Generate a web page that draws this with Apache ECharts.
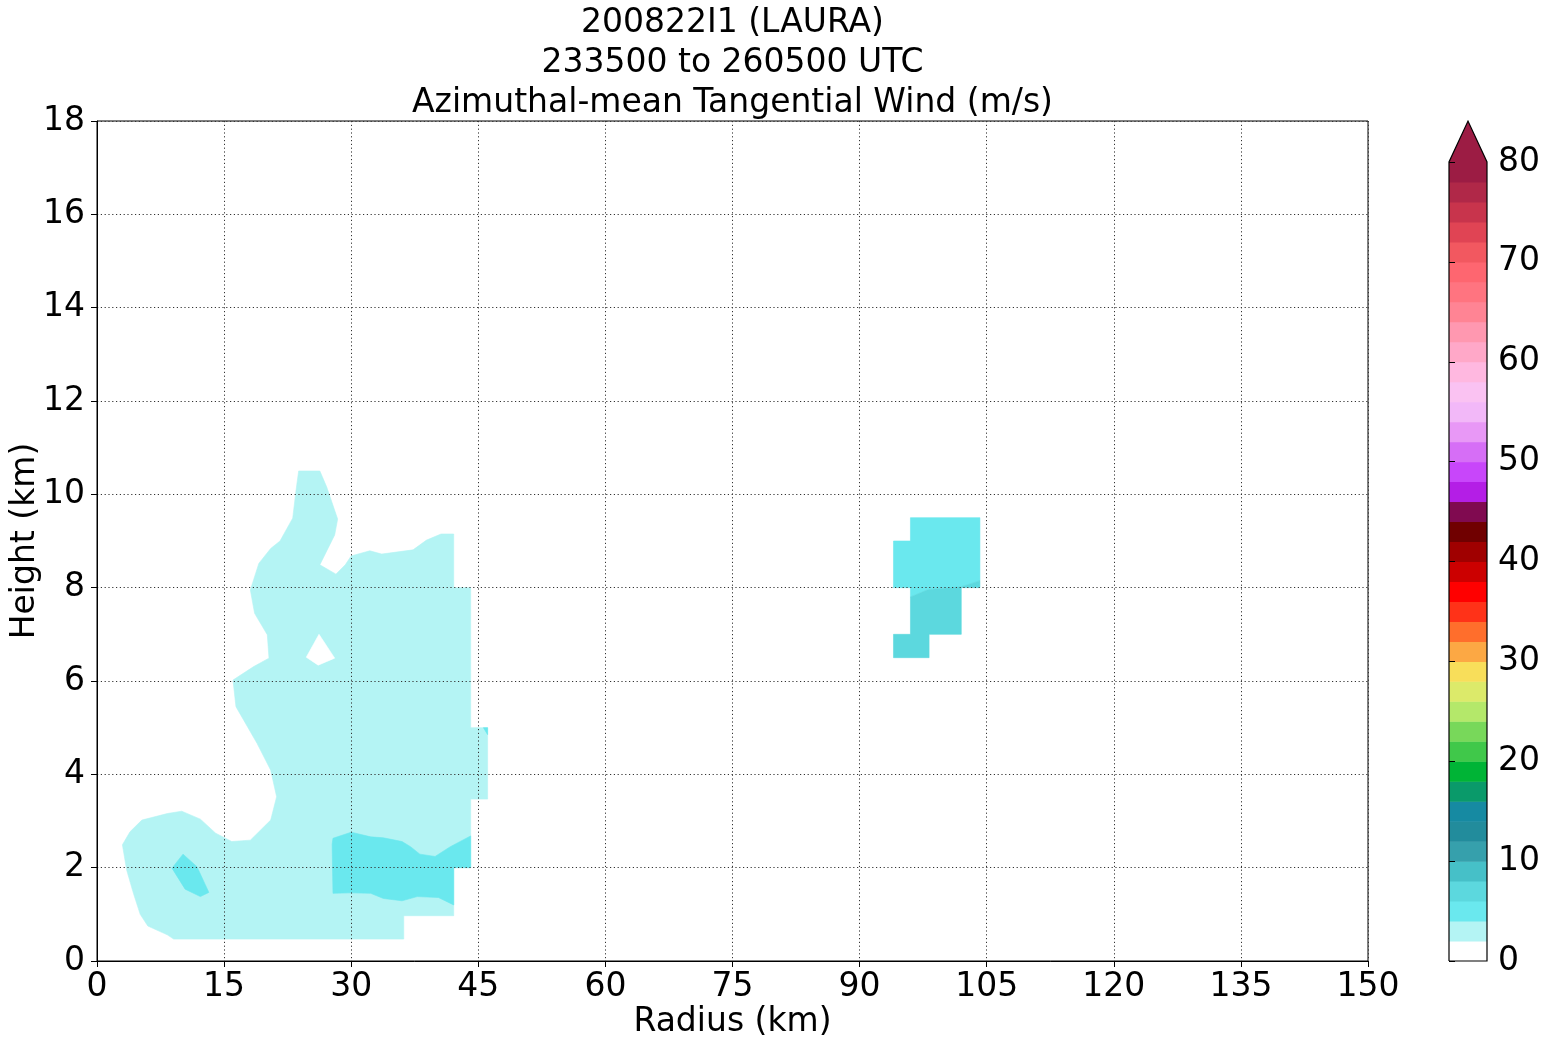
<!DOCTYPE html>
<html>
<head>
<meta charset="utf-8">
<script src="https://cdn.jsdelivr.net/npm/echarts@6/dist/echarts.min.js"></script>
<style>html,body{margin:0;padding:0;background:#fff}#chart{width:1548px;height:1045px}</style>
</head>
<body>
<div id="chart"></div>
<script>
// ---- colour levels (m/s) ----
const levelBounds = [0,2,4,6,8,10,12,14,16,18,20,22,24,26,28,30,32,34,36,38,40,42,44,46,48,50,52,54,56,58,60,62,64,66,68,70,72,74,76,78,80];
const levelColors = ['#ffffff','#b4f4f4','#6ae8ee','#5cd8de','#46c0c8','#36a0ac','#228c9c','#168aa2','#0a9a6a','#00b436',
  '#40c84a','#78d85a','#b4e86a','#dcea6a','#f8de5a','#fca844','#ff6e2c','#ff3218','#ff0000','#cc0000',
  '#a00000','#700000','#800a50','#b41ee6','#c846fa','#d66ef6','#e898f6','#f2b8f8','#fac2f2','#ffb8e0',
  '#ffa8c8','#ff98b0','#ff8494','#ff7480','#fe6670','#f25860','#e04454','#c8344c','#b02848','#9c1c44'];
const colorbarTicks = [0,10,20,30,40,50,60,70,80];
const xTicks = [0,15,30,45,60,75,90,105,120,135,150];
const yTicks = [0,2,4,6,8,10,12,14,16,18];

// ---- filled contour regions: [radius km, height km] ----
const fill_2_4_main = [[9.05,0.47],[36.2,0.47],[36.2,0.97],[42.1,0.97],[42.1,2.0],[44.1,2.0],[44.1,3.47],[46.1,3.47],[46.1,5.0],[44.1,5.0],[44.1,8.0],[42.1,8.0],[42.1,9.15],[40.6,9.15],[38.9,9.02],[37.3,8.81],[33.6,8.72],[32.2,8.79],[30.0,8.68],[29.3,8.49],[28.2,8.29],[26.3,8.49],[28.05,9.13],[28.4,9.47],[27.1,10.16],[26.3,10.5],[23.8,10.5],[23.5,10.1],[23.1,9.49],[21.6,9.0],[20.5,8.84],[19.1,8.52],[18.1,7.95],[18.6,7.45],[20.1,6.99],[20.3,6.49],[18.5,6.31],[16.05,6.02],[16.4,5.45],[18.9,4.66],[20.5,4.09],[21.2,3.52],[20.5,3.02],[18.1,2.59],[15.9,2.56],[14.0,2.74],[12.2,3.04],[10.0,3.21],[8.3,3.16],[5.3,3.02],[3.9,2.77],[3.0,2.49],[3.5,1.95],[4.3,1.45],[5.1,1.0],[6.0,0.75],[8.3,0.56]];
const fill_4_6_low = [[27.85,2.63],[30.0,2.76],[32.3,2.66],[33.8,2.64],[36.0,2.56],[37.0,2.45],[38.1,2.29],[39.9,2.24],[41.7,2.45],[44.1,2.68],[44.1,2.0],[42.1,2.0],[42.1,1.2],[40.3,1.36],[37.8,1.38],[36.0,1.29],[33.8,1.34],[32.3,1.45],[30.0,1.46],[27.85,1.45],[27.75,2.5]];
const fill_4_6_blob = [[10.15,2.29],[11.8,2.02],[13.2,1.47],[12.2,1.38],[10.4,1.54],[8.85,1.99]];
const fill_4_6_edge = [[45.6,5.0],[46.1,5.0],[46.1,4.85]];
const fill_4_6_outer = [[94.0,8.0],[94.0,9.0],[96.0,9.0],[96.0,9.5],[104.2,9.5],[104.2,8.15],[102.0,8.02],[98.1,7.96],[96.0,7.8],[96.0,8.0]];
const fill_6_8_outer = [[96.0,7.8],[98.1,7.96],[102.0,8.02],[104.2,8.15],[104.2,8.0],[102.0,8.0],[102.0,7.0],[98.2,7.0],[98.2,6.5],[94.0,6.5],[94.0,7.0],[96.0,7.0]];
const hole_0_2 = [[26.2,7.0],[28.05,6.49],[26.1,6.34],[24.7,6.51]];

const regions = [
  {pts: fill_2_4_main, level: 2},
  {pts: fill_4_6_low, level: 4},
  {pts: fill_4_6_blob, level: 4},
  {pts: fill_4_6_edge, level: 4},
  {pts: fill_4_6_outer, level: 4},
  {pts: fill_6_8_outer, level: 6},
  {pts: hole_0_2, level: 0}
];

function colorFor(level){ return levelColors[levelBounds.indexOf(level)]; }

const FONT = 'DejaVu Sans';
const chart = echarts.init(document.getElementById('chart'), null, {renderer:'canvas'});

const contourSeries = regions.map(function(r){
  return {
    type: 'custom', xAxisIndex: 0, yAxisIndex: 0, z: 2, silent: true,
    data: r.pts,
    renderItem: function(params, api){
      if (params.dataIndex !== 0) return null;
      const points = r.pts.map(function(p){ return api.coord(p); });
      return {type:'polygon', shape:{points: points}, style:{fill: colorFor(r.level), stroke: colorFor(r.level), lineWidth: 0.6}};
    }
  };
});

const cbData = levelColors.map(function(c, i){ return [levelBounds[i], levelBounds[i+1], i]; });

const option = {
  animation: false,
  backgroundColor: '#ffffff',
  textStyle: {fontFamily: FONT},
  graphic: [
    {type:'text', x:732.5, y:23, style:{text:'200822I1 (LAURA)', fontSize:33, fontFamily:FONT, fill:'#000', textAlign:'center', textVerticalAlign:'middle', align:'center', verticalAlign:'middle'}},
    {type:'text', x:732.5, y:63, style:{text:'233500 to 260500 UTC', fontSize:33, fontFamily:FONT, fill:'#000', textAlign:'center', textVerticalAlign:'middle', align:'center', verticalAlign:'middle'}},
    {type:'text', x:732.5, y:103, style:{text:'Azimuthal-mean Tangential Wind (m/s)', fontSize:33, fontFamily:FONT, fill:'#000', textAlign:'center', textVerticalAlign:'middle', align:'center', verticalAlign:'middle'}}
  ],
  grid: [
    {left:97, top:121, width:1271, height:840, show:true, borderColor:'#000', borderWidth:1, backgroundColor:'transparent', containLabel:false, outerBoundsMode:'none'},
    {left:1449, top:162, width:38, height:799, show:false, containLabel:false, outerBoundsMode:'none'}
  ],
  xAxis: [
    {type:'value', gridIndex:0, min:0, max:150, interval:15, z:10,
     name:'Radius (km)', nameLocation:'middle', nameGap:45, nameMoveOverlap:false,
     nameTextStyle:{fontSize:33, fontFamily:FONT, color:'#000'},
     axisLine:{show:true, onZero:false, lineStyle:{color:'#000', width:1}},
     axisTick:{show:true, inside:false, length:6, lineStyle:{color:'#000'}},
     axisLabel:{fontSize:33, fontFamily:FONT, color:'#000', margin:10},
     splitLine:{show:true, lineStyle:{color:'#333', width:1, type:[1.2,2.6]}}},
    {type:'value', gridIndex:1, min:0, max:1, show:false}
  ],
  yAxis: [
    {type:'value', gridIndex:0, min:0, max:18, interval:2, z:10,
     name:'Height (km)', nameLocation:'middle', nameGap:55, nameRotate:90, nameMoveOverlap:false,
     nameTextStyle:{fontSize:33, fontFamily:FONT, color:'#000'},
     axisLine:{show:true, onZero:false, lineStyle:{color:'#000', width:1}},
     axisTick:{show:true, inside:false, length:6, lineStyle:{color:'#000'}},
     axisLabel:{fontSize:33, fontFamily:FONT, color:'#000', margin:12},
     splitLine:{show:true, lineStyle:{color:'#333', width:1, type:[1.2,2.6]}}},
    {type:'value', gridIndex:1, min:0, max:80, interval:10, position:'right', z:10,
     axisLine:{show:false},
     axisTick:{show:true, inside:false, length:6, lineStyle:{color:'#000'}},
     axisLabel:{fontSize:33, fontFamily:FONT, color:'#000', margin:11},
     splitLine:{show:false}}
  ],
  series: contourSeries.concat([
    {type:'custom', xAxisIndex:1, yAxisIndex:1, silent:true, clip:false, z:2,
     data: cbData,
     renderItem: function(params, api){
       const lo = api.value(0), hi = api.value(1), idx = api.value(2);
       const p1 = api.coord([0, hi]); const p2 = api.coord([1, lo]);
       return {type:'rect', shape:{x:p1[0], y:p1[1], width:p2[0]-p1[0], height:p2[1]-p1[1]+0.5}, style:{fill: levelColors[idx]}};
     }},
    {type:'custom', xAxisIndex:1, yAxisIndex:1, silent:true, clip:false, z:5,
     data: [[80]],
     renderItem: function(params, api){
       const top = api.value(0);
       const pts = [api.coord([0, top]), api.coord([1, top]), api.coord([0.5, top + 4.1])];
       const a = api.coord([0,0]), b = api.coord([1,0]), c = api.coord([1,top]), d = api.coord([0.5, top+4.1]), e = api.coord([0,top]);
       return {type:'group', children:[
         {type:'polygon', shape:{points: pts}, style:{fill: levelColors[levelColors.length-1]}},
         {type:'polyline', shape:{points: [a,b,c,d,e,a]}, style:{fill: null, stroke:'#000', lineWidth:1.2}}
       ]};
     }}
  ])
};
chart.setOption(option);
</script>
</body>
</html>
